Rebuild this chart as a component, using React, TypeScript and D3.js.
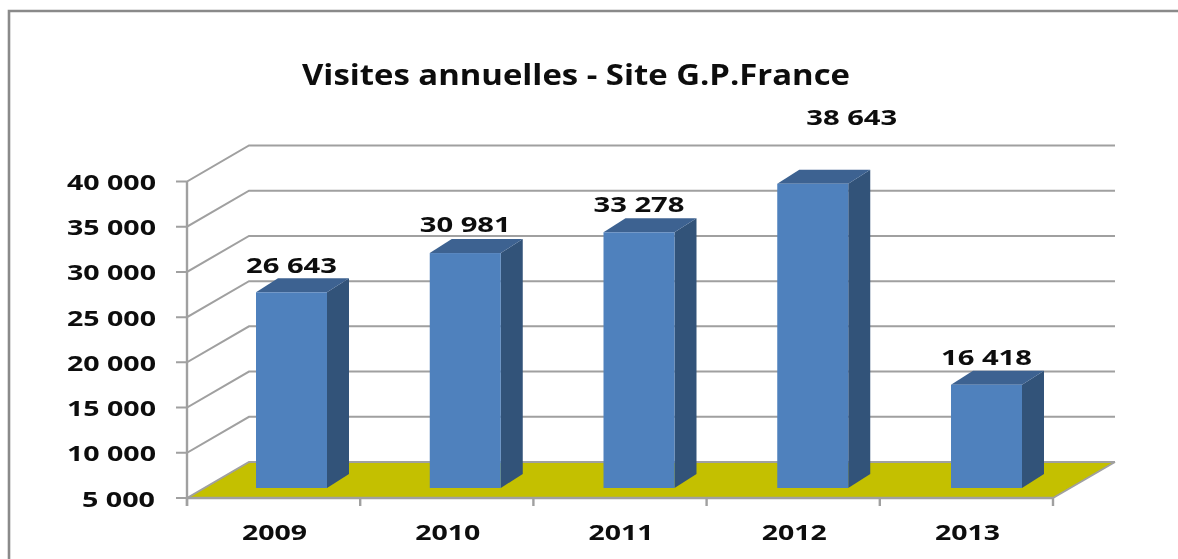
import React from "react";
import * as d3 from "d3";

const years = ["2009", "2010", "2011", "2012", "2013"];
const visits = [26643, 30981, 33278, 38643, 16418];
const valueLabels = ["26 643", "30 981", "33 278", "38 643", "16 418"];
const yTicks = [5000, 10000, 15000, 20000, 25000, 30000, 35000, 40000];
const title = "Visites annuelles - Site G.P.France";

const W = 1178, H = 559;
const x0 = 187, x1 = 1053, yBase = 498, yTop = 181.5;
const wallDx = 62, wallDy = -36;
const barDx = 22, barDy = -14, barLift = -10, barW = 71;
const labelDy: Record<string, number> = { "2009": -19, "2010": -21, "2011": -20, "2012": -59, "2013": -20 };
const labelDx: Record<string, number> = { "2009": 0, "2010": 0, "2011": 0, "2012": 39, "2013": 0 };

const fmt = (v: number) => d3.format(",")(v).replace(/,/g, " ");
const FONT = "'Open Sans', 'DejaVu Sans', sans-serif";

function Txt({ x, y, w, size, children }: any) {
  return (
    <text x={x} y={y} textAnchor="middle" fontFamily={FONT} fontWeight={700} fontSize={size}
      fill="#0a0a0a" textLength={w} lengthAdjust="spacingAndGlyphs">{children}</text>
  );
}

export default function App() {
  const y = d3.scaleLinear().domain([5000, 40000]).range([yBase, yTop]);
  const x = d3.scaleBand<string>().domain(years).range([x0, x1]);
  const barX = d3.scalePoint<string>().domain(years).range([291.5, 986.5]);
  const grid = "#a0a0a0";
  const floorPath = d3.line()([
    [x0, yBase], [x0 + wallDx, yBase + wallDy], [x1 + wallDx, yBase + wallDy], [x1, yBase],
  ]) + "Z";
  return (
    <svg width={W} height={H} viewBox={`0 0 ${W} ${H}`}
      style={{ position: "absolute", left: 0, top: 0, background: "#fff", display: "block" }}>
      <defs>
        <filter id="soft" x="-2%" y="-2%" width="104%" height="104%">
          <feGaussianBlur stdDeviation="0.45" />
        </filter>
      </defs>
      <g filter="url(#soft)">
        <path d={`M9,${H}V11H${W}`} fill="none" stroke="#8a8a8a" strokeWidth={2.6} />
        <Txt x={576} y={85} w={548} size={29}>{title}</Txt>

        <path d={floorPath} fill="#c4c000" />
        {yTicks.map((t) => (
          <g key={t}>
            <polyline fill="none" stroke={grid} strokeWidth={2}
              points={`${x0 - 11},${y(t)} ${x0},${y(t)} ${x0 + wallDx},${y(t) + wallDy} ${x1 + wallDx},${y(t) + wallDy}`} />
            <Txt x={t < 10000 ? 118.5 : 111.5} y={y(t) + 8.5} w={t < 10000 ? 73 : 89} size={22}>{fmt(t)}</Txt>
          </g>
        ))}
        <line x1={x0} x2={x0} y1={yTop} y2={yBase + 8} stroke={grid} strokeWidth={2.4} />
        <line x1={x0} x2={x1} y1={yBase} y2={yBase} stroke={grid} strokeWidth={2.4} />
        <line x1={x1} x2={x1 + wallDx} y1={yBase} y2={yBase + wallDy} stroke={grid} strokeWidth={2} />
        {[...years.map((c) => x(c)!), x1].map((tx, i) => (
          <line key={i} x1={tx} x2={tx} y1={yBase} y2={yBase + 8} stroke={grid} strokeWidth={2.4} />
        ))}

        {years.map((c, i) => {
          const left = barX(c)! - barW / 2;
          const right = left + barW;
          const top = y(visits[i]) + barLift;
          const bot = yBase + barLift;
          return (
            <g key={c}>
              <path d={`M${right},${top}L${right + barDx},${top + barDy}V${bot + barDy}L${right},${bot}Z`} fill="#325279" />
              <path d={`M${left},${top}L${left + barDx},${top + barDy}H${right + barDx}L${right},${top}Z`} fill="#3c6291" />
              <rect x={left} y={top} width={barW} height={bot - top} fill="#4f81bd" />
              <Txt x={barX(c)! + labelDx[c]} y={top + labelDy[c]} w={91} size={22}>{valueLabels[i]}</Txt>
              <Txt x={x(c)! + x.bandwidth() / 2 + 1} y={540} w={65} size={22}>{c}</Txt>
            </g>
          );
        })}
      </g>
    </svg>
  );
}
